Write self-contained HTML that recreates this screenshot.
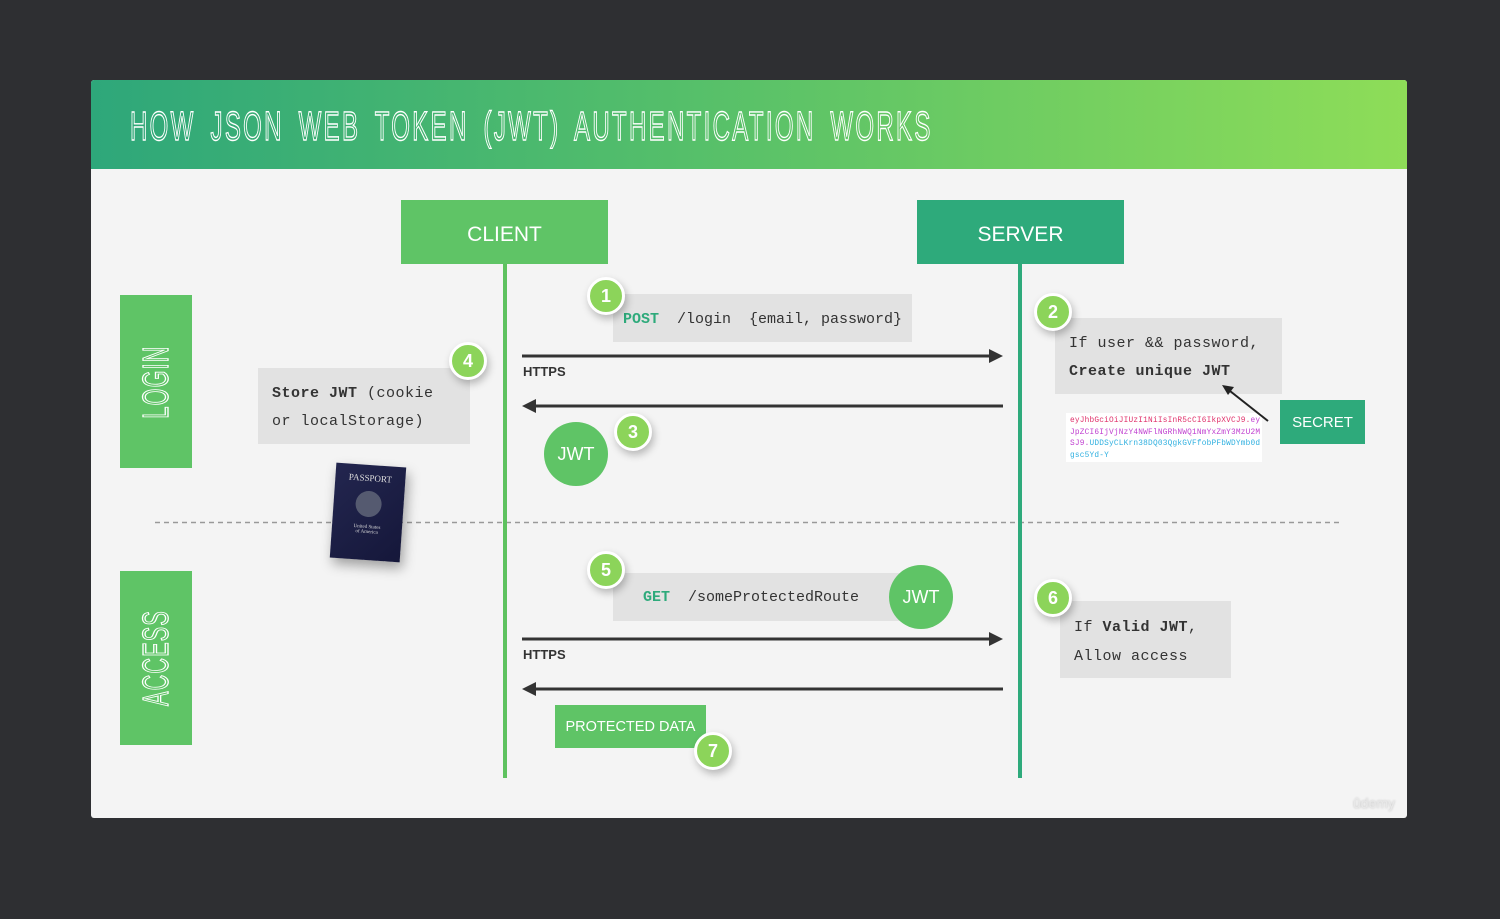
<!DOCTYPE html>
<html><head><meta charset="utf-8">
<style>
*{margin:0;padding:0;box-sizing:border-box}
body{width:1500px;height:919px;background:#2e2f32;position:relative;overflow:hidden;font-family:"Liberation Sans",sans-serif}
.abs{position:absolute}
.card{left:91px;top:80px;width:1316px;height:738px;background:#f4f4f4;border-radius:3px}
.hdr{left:91px;top:80px;width:1316px;height:89px;background:linear-gradient(90deg,#2ea77a 0%,#55bf6a 45%,#8edd58 100%);border-radius:3px 3px 0 0}
.title{left:130px;top:103px;font-size:41px;color:transparent;-webkit-text-stroke:1.4px #fff;transform:scaleX(0.585);transform-origin:left top;white-space:nowrap;letter-spacing:4px;word-spacing:10px}
.box{display:flex;align-items:center;justify-content:center;color:#fff}
.gray{background:#e2e2e2;font-family:"Liberation Mono",monospace;font-size:15px;color:#333}
.num{width:38px;height:38px;border-radius:50%;background:#8cd45a;border:3px solid #fff;color:#fff;font-weight:bold;font-size:18px;display:flex;align-items:center;justify-content:center;box-shadow:2px 4px 8px rgba(0,0,0,.25)}
.jwt{width:64px;height:64px;border-radius:50%;background:#5fc466;color:#fff;font-size:18px;display:flex;align-items:center;justify-content:center}
.vert{color:transparent;-webkit-text-stroke:1.3px #fff;font-size:36px;transform:rotate(-90deg) scaleX(0.6);white-space:nowrap;letter-spacing:2px}
</style></head><body>
<div class="abs card"></div>
<div class="abs hdr"></div>
<div class="abs title">HOW JSON WEB TOKEN (JWT) AUTHENTICATION WORKS</div>

<svg class="abs" style="left:0;top:0" width="1500" height="919">
<line x1="155" y1="522.5" x2="1343" y2="522.5" stroke="#999" stroke-width="1.5" stroke-dasharray="5,4"/>
<line x1="505" y1="262" x2="505" y2="778" stroke="#5ec25f" stroke-width="4"/>
<line x1="1020" y1="262" x2="1020" y2="778" stroke="#2eaa7b" stroke-width="4"/>
<g stroke="#333" stroke-width="3" fill="#333">
<line x1="522" y1="356" x2="992" y2="356"/><polygon points="1003,356 989,349 989,363" stroke="none"/>
<line x1="534" y1="406" x2="1003" y2="406"/><polygon points="522,406 536,399 536,413" stroke="none"/>
<line x1="522" y1="639" x2="992" y2="639"/><polygon points="1003,639 989,632 989,646" stroke="none"/>
<line x1="534" y1="689" x2="1003" y2="689"/><polygon points="522,689 536,682 536,696" stroke="none"/>
</g>
</svg>

<div class="abs box" style="left:401px;top:200px;width:207px;height:64px;background:#5fc466;font-size:21px;padding-top:6px">CLIENT</div>
<div class="abs box" style="left:917px;top:200px;width:207px;height:64px;background:#2eaa7b;font-size:21px;padding-top:6px">SERVER</div>

<div class="abs box" style="left:120px;top:295px;width:72px;height:173px;background:#5fc466"><div class="vert">LOGIN</div></div>
<div class="abs box" style="left:120px;top:571px;width:72px;height:174px;background:#5fc466"><div class="vert">ACCESS</div></div>

<div class="abs" style="left:523px;top:364px;font-size:13px;font-weight:bold;color:#333">HTTPS</div>
<div class="abs" style="left:523px;top:647px;font-size:13px;font-weight:bold;color:#333">HTTPS</div>

<div class="abs gray" style="left:613px;top:294px;width:299px;height:48px;padding:17px 0 0 10px;white-space:pre"><b style="color:#2eaa7b">POST</b>  /login  {email, password}</div>
<div class="abs num" style="left:587px;top:277px">1</div>

<div class="abs gray" style="left:1055px;top:318px;width:227px;height:76px;padding:12px 0 0 14px;line-height:28px;white-space:pre;letter-spacing:0.5px">If user &amp;&amp; password,
<b>Create unique JWT</b></div>
<div class="abs num" style="left:1034px;top:293px">2</div>

<div class="abs" style="left:1066px;top:413px;width:196px;height:49px;background:#fff;font-family:'Liberation Mono',monospace;font-size:7.8px;line-height:11.5px;padding:3px 0 0 4px;word-break:break-all;letter-spacing:0.2px"><span style="color:#e0306a">eyJhbGciOiJIUzI1NiIsInR5cCI6IkpXVCJ9.</span><span style="color:#c040d0">eyJpZCI6IjVjNzY4NWFlNGRhNWQ1NmYxZmY3MzU2MSJ9.</span><span style="color:#30b0e0">UDDSyCLKrn38DQ03QgkGVFfobPFbWDYmb0dgsc5Yd-Y</span></div>
<div class="abs box" style="left:1280px;top:400px;width:85px;height:44px;background:#2eaa7b;font-size:15px">SECRET</div>
<svg class="abs" style="left:0;top:0" width="1500" height="919">
<line x1="1268" y1="421" x2="1230" y2="391" stroke="#222" stroke-width="2"/>
<polygon points="1222,385 1234,387 1228,395" fill="#222"/>
</svg>

<div class="abs gray" style="left:258px;top:368px;width:212px;height:76px;padding:12px 0 0 14px;line-height:28px;white-space:pre;letter-spacing:0.5px"><b>Store JWT</b> (cookie
or localStorage)</div>
<div class="abs num" style="left:449px;top:342px">4</div>

<div class="abs jwt" style="left:544px;top:422px">JWT</div>
<div class="abs num" style="left:614px;top:413px">3</div>

<div class="abs" style="left:333px;top:465px;width:70px;height:95px;background:linear-gradient(135deg,#23264f,#15173a);transform:rotate(4deg);box-shadow:3px 6px 12px rgba(0,0,0,.35);color:#ddd;font-family:'Liberation Serif',serif;font-size:9px;text-align:center;padding-top:8px">PASSPORT<div style="width:26px;height:26px;margin:8px auto;border-radius:50%;background:#555a70"></div><div style="font-size:5px">United States<br>of America</div></div>

<div class="abs gray" style="left:613px;top:573px;width:312px;height:48px;padding:16px 0 0 30px;white-space:pre"><b style="color:#2eaa7b">GET</b>  /someProtectedRoute</div>
<div class="abs jwt" style="left:889px;top:565px">JWT</div>
<div class="abs num" style="left:587px;top:551px">5</div>

<div class="abs gray" style="left:1060px;top:601px;width:171px;height:77px;padding:12px 0 0 14px;line-height:29px;white-space:pre;letter-spacing:0.5px">If <b>Valid JWT</b>,
Allow access</div>
<div class="abs num" style="left:1034px;top:579px">6</div>

<div class="abs box" style="left:555px;top:705px;width:151px;height:43px;background:#5fc466;font-size:14.5px">PROTECTED DATA</div>
<div class="abs num" style="left:694px;top:732px">7</div>

<div class="abs" style="left:1353px;top:795px;font-size:14px;color:#e8e8e8;text-shadow:0 0 2px #bbb">ûdemy</div>
</body></html>
